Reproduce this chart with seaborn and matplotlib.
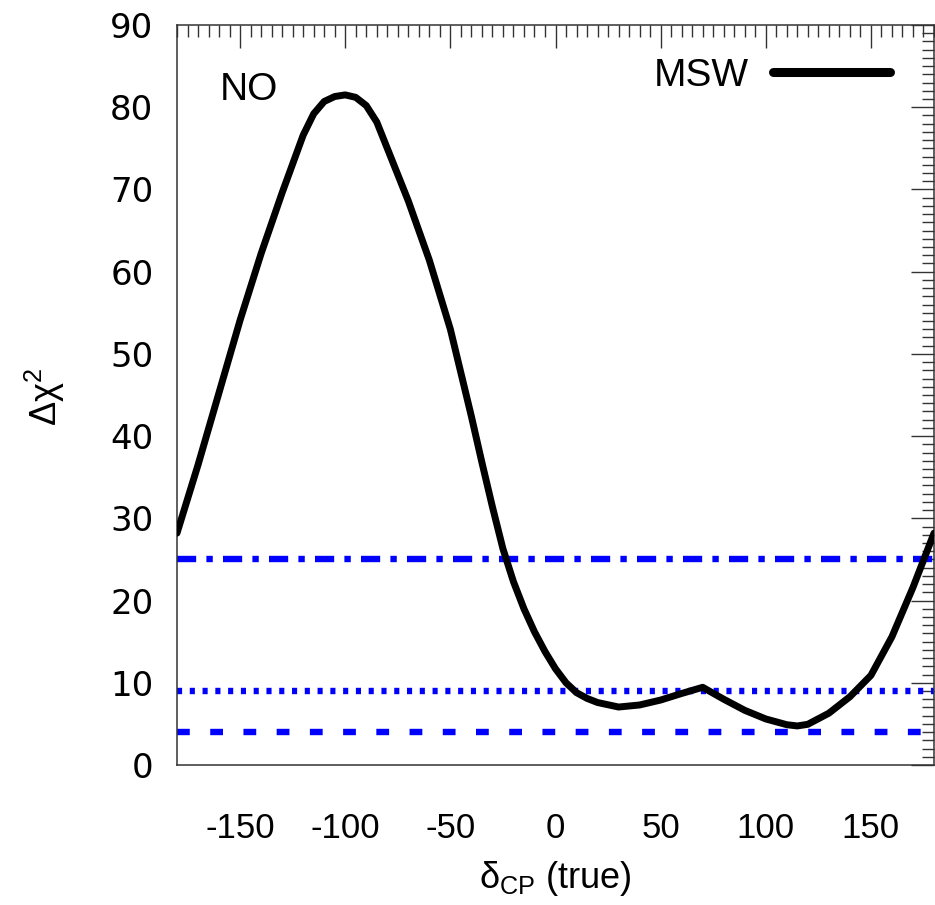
import numpy as np
import pandas as pd
import matplotlib
matplotlib.use("Agg")
import matplotlib.pyplot as plt
import matplotlib.transforms as mtransforms
import seaborn as sns
from matplotlib.lines import Line2D
from matplotlib.ticker import MultipleLocator

# ---- data ----
delta_cp = [-180, -170, -160, -150, -140, -130, -120, -115, -110, -105,
            -100, -95, -90, -85, -80, -70, -60, -50, -40, -35,
            -30, -25, -20, -15, -10, -5, 0, 5, 10, 15,
            20, 30, 40, 50, 60, 70, 80, 90, 100, 110,
            115, 120, 130, 140, 150, 160, 170, 180]
chi2_msw = [28.2, 36.5, 45.3, 54.1, 62.2, 69.6, 76.6, 79.2, 80.7, 81.3,
            81.5, 81.2, 80.2, 78.2, 75.0, 68.6, 61.4, 53.0, 42.4, 36.8,
            31.4, 26.3, 22.3, 19.0, 16.2, 13.8, 11.7, 10.0, 8.8, 8.1,
            7.6, 7.05, 7.3, 7.9, 8.7, 9.45, 8.0, 6.65, 5.6, 4.9,
            4.75, 4.95, 6.3, 8.3, 10.9, 15.6, 21.6, 28.2]
levels = [25, 9, 4]
x_ticks = [-150, -100, -50, 0, 50, 100, 150]
y_ticks = [0, 10, 20, 30, 40, 50, 60, 70, 80, 90]

df = pd.DataFrame({"delta": delta_cp, "chi2": chi2_msw})

sns.set_style("white")
plt.rcParams["font.family"] = ["Liberation Sans", "DejaVu Sans"]
plt.rcParams["mathtext.fontset"] = "custom"
plt.rcParams["mathtext.rm"] = "Liberation Sans"
plt.rcParams["mathtext.it"] = "Liberation Sans:italic"
plt.rcParams["axes.unicode_minus"] = False
plt.rcParams["text.color"] = "black"
plt.rcParams["xtick.labelcolor"] = "black"
plt.rcParams["ytick.labelcolor"] = "black"

W, H = 935, 905
fig = plt.figure(figsize=(W / 100, H / 100), dpi=100)
ax = fig.add_axes([177 / W, 140 / H, 757 / W, 740 / H])

# reference levels
blue = "#0000ff"
styles = [(0, (3.0, 1.6, 1.0, 1.6)), (0, (0.8, 1.2)), (0, (2.0, 3.2))]
for lev, ls in zip(levels, styles):
    ax.axhline(lev, color=blue, lw=4.6, linestyle=ls, zorder=2)

sns.lineplot(data=df, x="delta", y="chi2", ax=ax, color="black", lw=5.0,
             zorder=3, legend=False)
for ln in ax.get_lines()[len(levels):]:
    ln.set_solid_joinstyle("round")
    ln.set_solid_capstyle("round")

ax.set_xlim(-180, 180)
ax.set_ylim(0, 90)
ax.set_xticks(x_ticks)
ax.set_yticks(y_ticks)
ax.xaxis.set_minor_locator(MultipleLocator(5))
ax.yaxis.set_minor_locator(MultipleLocator(1))

frame_col = "#333333"
for sp in ax.spines.values():
    sp.set_color(frame_col)
    sp.set_linewidth(1.1)
    sp.set_visible(True)

ax.tick_params(which="both", direction="in", top=True, right=True,
               color=frame_col, width=1.0)
ax.tick_params(which="major", length=16.5)
ax.tick_params(which="minor", length=8.5)
ax.tick_params(axis="x", which="major", labelsize=25, pad=34,
               labelcolor="black")
ax.tick_params(axis="y", which="major", labelsize=24.5, pad=17,
               labelcolor="black")
for lbl in ax.get_yticklabels():
    lbl.set_fontfamily("DejaVu Sans")

ax.set_xlabel("")
ax.set_ylabel("")
fig.text(555 / W, 1 - 878 / H, r"$\mathrm{\delta_{CP}}$ (true)", fontsize=26,
         ha="center", va="center", color="black")
fig.text(45 / W, 1 - 397 / H, r"$\mathrm{\Delta\chi^{2}}$", fontsize=26,
         rotation=90, ha="center", va="center", color="black")

t = ax.text(0, 0, "NO", fontsize=28, ha="left", va="center", color="black")
t.set_transform(mtransforms.IdentityTransform())
t.set_position((220, H - 90))

handle = Line2D([], [], color="black", lw=6.5)
leg = ax.legend(handles=[handle], labels=["MSW"], loc="center right",
                bbox_to_anchor=((890 - 177) / 757, (765 - 76) / 740),
                frameon=False, fontsize=28, markerfirst=False, borderpad=0,
                borderaxespad=0, handlelength=3.0, handletextpad=0.62)
for tx in leg.get_texts():
    tx.set_color("black")

fig.savefig("out.png", dpi=100)
